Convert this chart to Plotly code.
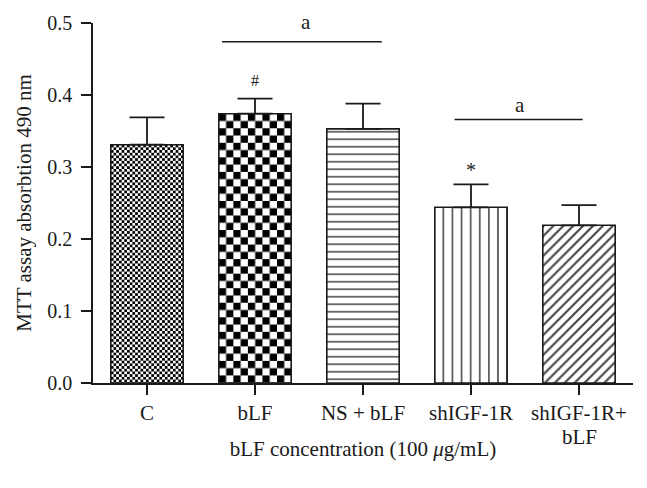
import base64
import plotly.graph_objects as go

# ---------------- data ----------------
categories = ["C", "bLF", "NS + bLF", "shIGF-1R", "shIGF-1R+"]
category_line2 = ["", "", "", "", "bLF"]
means = [0.331, 0.374, 0.353, 0.244, 0.219]
sem = [0.038, 0.021, 0.035, 0.032, 0.028]

# significance brackets (x in category units, y in absorbance units)
sig_x0 = [0.695, 2.848]
sig_x1 = [2.174, 4.034]
sig_y = [0.474, 0.366]
sig_text = ["a", "a"]
sig_text_x = [1.476, 3.45]
sig_text_y = [0.497, 0.382]

# per-bar markers
mark_x = [1, 3]
mark_y = [0.4185, 0.3004]
mark_text = ["#", "*"]

y_ticks = [0.0, 0.1, 0.2, 0.3, 0.4, 0.5]

# ---------------- style ----------------
# page body has an 8px margin, so the figure is laid out 8px smaller
W, H = 639, 480
ML, MR, MT, MB = 85, 14, 15, 105
BAR_W = 0.67
FONT = "Liberation Serif"
INK = "#1a1a1a"
x_range = [-0.5, 4.5]
y_range = [0.0, 0.5]
px_x = (W - ML - MR) / (x_range[1] - x_range[0])
px_y = (H - MT - MB) / (y_range[1] - y_range[0])

# fill style per bar: checker cell size (px) or plotly pattern
checker_cell = [2.7, 7.27, None, None, None]
pat_shape = ["", "", "-", "|", "/"]
pat_size = [8, 8, 7.5, 9.1, 7]
pat_solid = [0.2, 0.2, 0.2, 0.17, 0.3]
bar_colors = ["rgba(0,0,0,0)" if c else "white" for c in checker_cell]

x_idx = list(range(len(categories)))

fig = go.Figure()
fig.add_trace(go.Bar(
    x=x_idx, y=means, width=BAR_W,
    marker=dict(
        color=bar_colors,
        line=dict(color=INK, width=1.6),
        pattern=dict(shape=pat_shape, size=pat_size, solidity=pat_solid,
                     fgcolor=INK, fgopacity=1, fillmode="overlay"),
    ),
    error_y=dict(type="data", array=sem, arrayminus=[0] * len(sem),
                 symmetric=False, color=INK, thickness=1.8, width=17.5),
    showlegend=False,
))


def checker_uri(w, h, c):
    svg = (
        f'<svg xmlns="http://www.w3.org/2000/svg" width="{w:.2f}" height="{h:.2f}" '
        f'viewBox="0 0 {w:.2f} {h:.2f}" preserveAspectRatio="none">'
        f'<defs><pattern id="p" width="{2*c}" height="{2*c}" patternUnits="userSpaceOnUse">'
        f'<rect width="{2*c}" height="{2*c}" fill="white"/>'
        f'<rect width="{c}" height="{c}" fill="black"/>'
        f'<rect x="{c}" y="{c}" width="{c}" height="{c}" fill="black"/>'
        f'</pattern></defs><rect width="{w:.2f}" height="{h:.2f}" fill="url(#p)"/></svg>'
    )
    return "data:image/svg+xml;base64," + base64.b64encode(svg.encode()).decode()


images = []
for i, (v, c) in enumerate(zip(means, checker_cell)):
    if not c:
        continue
    images.append(dict(
        source=checker_uri(BAR_W * px_x, v * px_y, c),
        xref="x", yref="y", x=i - BAR_W / 2, y=v,
        sizex=BAR_W, sizey=v, sizing="stretch",
        xanchor="left", yanchor="top", layer="below",
    ))

shapes = []
for x0, x1, y in zip(sig_x0, sig_x1, sig_y):
    shapes.append(dict(type="line", xref="x", yref="y", x0=x0, x1=x1, y0=y, y1=y,
                       line=dict(color=INK, width=1.6)))

annotations = []
for tx, ty, t in zip(sig_text_x, sig_text_y, sig_text):
    annotations.append(dict(x=tx, y=ty, xref="x", yref="y", text=t, showarrow=False,
                            yanchor="middle", yshift=3,
                            font=dict(family=FONT, size=21, color=INK)))
for mx, my, t in zip(mark_x, mark_y, mark_text):
    annotations.append(dict(x=mx, y=my, xref="x", yref="y", text=t, showarrow=False,
                            yanchor="middle", yshift=1 if t == "#" else -3,
                            font=dict(family=FONT, size=16 if t == "#" else 20, color=INK)))
for i, t in enumerate(category_line2):
    if t:
        annotations.append(dict(x=i, y=0, xref="x", yref="y", text=t, showarrow=False,
                                yanchor="top", yshift=-40,
                                font=dict(family=FONT, size=21, color=INK)))

fig.update_layout(
    width=W, height=H,
    margin=dict(l=ML, r=MR, t=MT, b=MB, autoexpand=False),
    paper_bgcolor="white", plot_bgcolor="white",
    font=dict(family=FONT, size=20, color=INK),
    images=images, shapes=shapes, annotations=annotations,
)
fig.update_xaxes(
    range=x_range, tickmode="array", tickvals=x_idx, ticktext=categories,
    automargin=False,
    showline=True, linecolor=INK, linewidth=1.6,
    ticks="outside", ticklen=10, tickwidth=1.6, tickcolor=INK,
    showgrid=False, zeroline=False,
    title=dict(text="bLF concentration (100 <i>μ</i>g/mL)", standoff=17,
               font=dict(family=FONT, size=21, color=INK)),
    tickfont=dict(family=FONT, size=21, color=INK),
)
fig.update_yaxes(
    range=y_range, tickmode="array", tickvals=y_ticks,
    ticktext=[f"{v:.1f}" for v in y_ticks],
    automargin=False,
    showline=True, linecolor=INK, linewidth=1.6,
    ticks="outside", ticklen=10, tickwidth=1.6, tickcolor=INK,
    ticklabelstandoff=5,
    showgrid=False, zeroline=False,
    title=dict(text="MTT assay absorbtion 490 nm", standoff=10,
               font=dict(family=FONT, size=21, color=INK)),
    tickfont=dict(family=FONT, size=20, color=INK),
)

fig.write_html("out.html")
